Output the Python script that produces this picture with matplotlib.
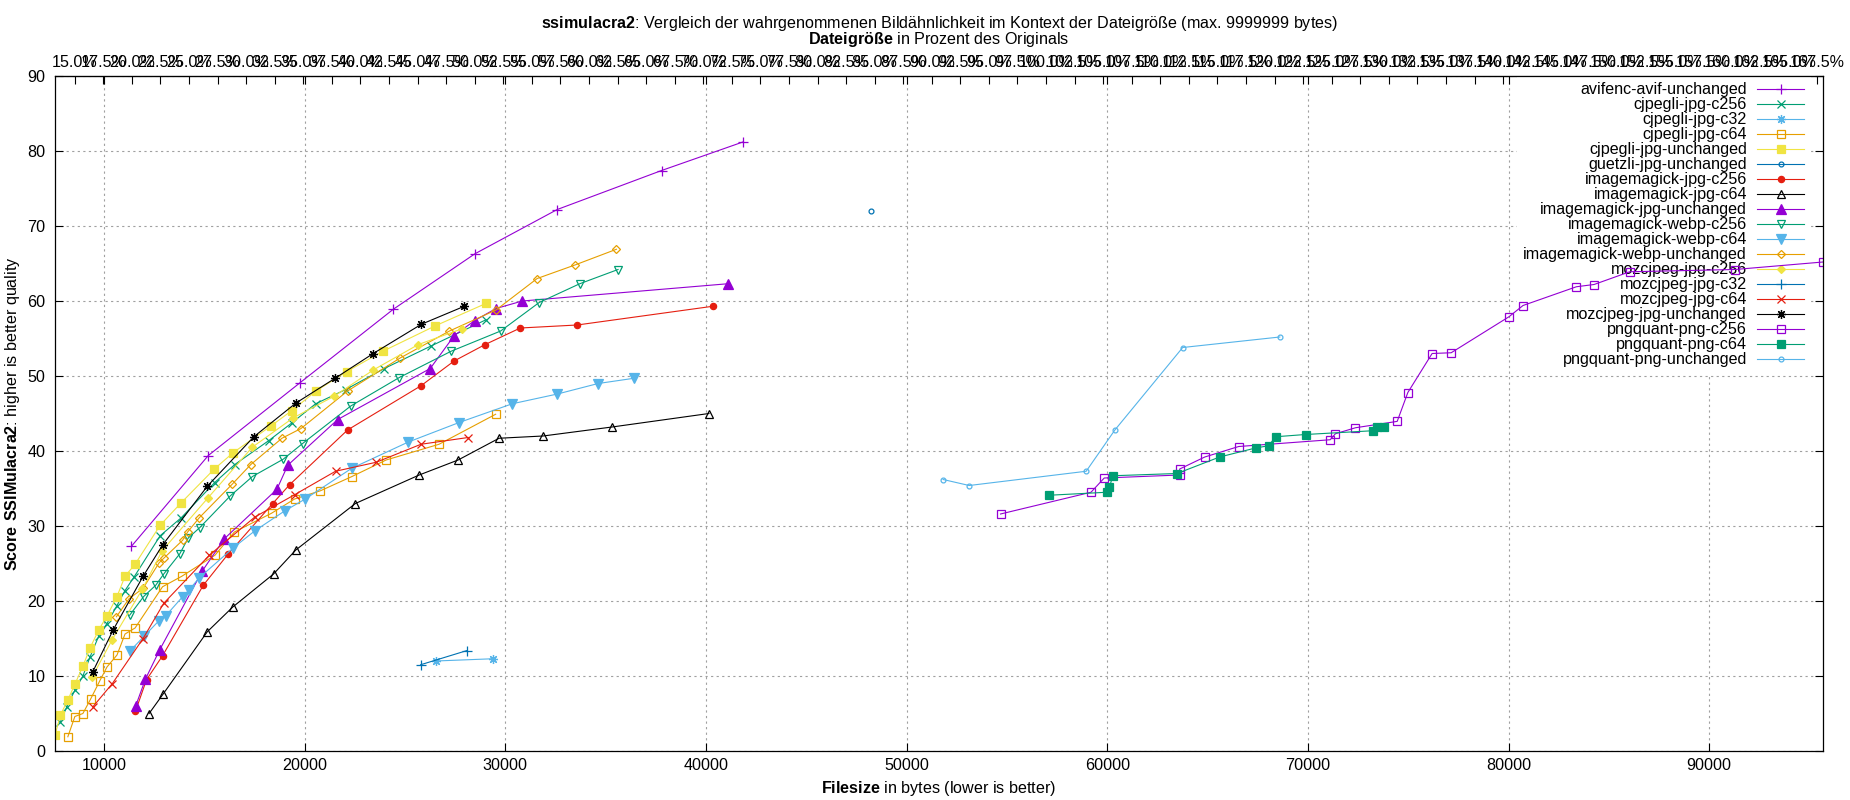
import matplotlib
matplotlib.use("Agg")
import matplotlib.pyplot as plt
from matplotlib.ticker import MultipleLocator, FuncFormatter

plt.rcParams['font.family'] = ['Liberation Sans', 'DejaVu Sans']
plt.rcParams['font.size'] = 11.6
plt.rcParams['mathtext.fontset'] = 'custom'
plt.rcParams['mathtext.rm'] = 'Liberation Sans'
plt.rcParams['mathtext.bf'] = 'Liberation Sans:bold'

# size of the original image in bytes (top axis shows percent of it)
original_size = 56950

# Data: filesize in bytes / ssimulacra2 score
avif_unchanged_x = [11370, 15200, 19770, 24420, 28490, 32590, 37790, 41840]
avif_unchanged_y = [27.3, 39.4, 49.1, 58.9, 66.3, 72.2, 77.4, 81.2]

cjpegli_c256_x = [7830, 8150, 8550, 8950, 9300, 9750, 10150, 10650, 11050, 11500, 12800,
                  13850, 15520, 16520, 18220, 19390, 20550, 22050, 23970, 26300, 29040]
cjpegli_c256_y = [3.9, 5.9, 8.1, 10.0, 12.5, 15.4, 17.0, 19.4, 21.4, 23.2, 28.7,
                  31.1, 35.8, 38.2, 41.4, 43.8, 46.3, 48.2, 51.0, 54.0, 57.5]

cjpegli_c32_x = [26530, 29390]
cjpegli_c32_y = [12.0, 12.3]

cjpegli_c64_x = [8200, 8550, 8950, 9330, 9800, 10150, 10650, 11050, 11550, 12920,
                 13880, 15530, 16500, 18350, 19500, 20790, 22360, 24060, 26700, 29520]
cjpegli_c64_y = [1.9, 4.6, 5.0, 6.9, 9.4, 11.2, 12.8, 15.6, 16.4, 21.9,
                 23.3, 26.1, 29.2, 31.7, 33.6, 34.7, 36.6, 38.8, 40.9, 44.9]

cjpegli_unchanged_x = [7560, 7830, 8200, 8550, 8950, 9300, 9750, 10150, 10650, 11050, 11550,
                       12800, 13850, 15500, 16450, 18300, 19370, 20570, 22100, 23900, 26520, 29060]
cjpegli_unchanged_y = [2.1, 4.8, 6.8, 8.9, 11.3, 13.7, 16.2, 18.0, 20.6, 23.3, 24.9,
                       30.1, 33.1, 37.6, 39.8, 43.3, 45.4, 48.0, 50.6, 53.3, 56.7, 59.7]

guetzli_unchanged_x = [48210]
guetzli_unchanged_y = [72.0]

im_jpg_c256_x = [11570, 12120, 12920, 14950, 16200, 18410, 19250, 22140, 25800, 27450,
                 29000, 30750, 33580, 40350]
im_jpg_c256_y = [5.3, 9.5, 12.7, 22.1, 26.3, 33.0, 35.5, 42.8, 48.7, 52.0,
                 54.2, 56.4, 56.8, 59.3]

im_jpg_c64_x = [12250, 12950, 15150, 16420, 18450, 19560, 22530, 25710, 27650, 29690,
                31880, 35320, 40150]
im_jpg_c64_y = [5.0, 7.6, 15.9, 19.2, 23.6, 26.8, 33.0, 36.8, 38.8, 41.7,
                42.0, 43.2, 45.0]

im_jpg_unchanged_x = [11580, 12070, 12780, 14900, 16000, 18620, 19160, 21650, 26260, 27460,
                      28480, 29540, 30850, 41090]
im_jpg_unchanged_y = [6.0, 9.6, 13.5, 24.0, 28.3, 34.9, 38.1, 44.2, 51.0, 55.4,
                      57.4, 59.0, 60.0, 62.3]

im_webp_c256_x = [11280, 11980, 12580, 12980, 13780, 14200, 14780, 16290, 17400, 18930,
                  19900, 22300, 24720, 27300, 29770, 31690, 33710, 35620]
im_webp_c256_y = [18.1, 20.6, 22.1, 23.6, 26.3, 28.4, 29.8, 34.0, 36.6, 38.9,
                  41.0, 46.0, 49.8, 53.3, 56.0, 59.8, 62.3, 64.2]

im_webp_c64_x = [11320, 12000, 12750, 13070, 13930, 14250, 14750, 16450, 17540, 19000,
                 20030, 22350, 25170, 27700, 30350, 32600, 34630, 36420]
im_webp_c64_y = [13.4, 15.3, 17.4, 18.0, 20.6, 21.5, 23.1, 27.1, 29.4, 32.0,
                 33.6, 37.7, 41.2, 43.8, 46.3, 47.6, 49.0, 49.7]

im_webp_unchanged_x = [10620, 11250, 11950, 12750, 12980, 13920, 14170, 14750, 16400, 17320,
                       18870, 19820, 22140, 24760, 27220, 29540, 31590, 33470, 35540]
im_webp_unchanged_y = [17.9, 20.3, 21.7, 25.1, 25.7, 28.1, 29.2, 31.1, 35.6, 38.2,
                       41.7, 43.0, 48.0, 52.4, 56.0, 58.8, 63.0, 64.8, 66.9]

moz_c256_x = [9420, 10400, 11920, 12900, 15200, 17390, 19420, 21470, 23420, 25670, 27850]
moz_c256_y = [9.9, 14.8, 21.6, 26.7, 33.8, 40.5, 44.4, 47.3, 50.8, 54.2, 56.3]

moz_c32_x = [25780, 28100]
moz_c32_y = [11.5, 13.4]

moz_c64_x = [9450, 10420, 11950, 12980, 15250, 17520, 19520, 21540, 23570, 25800, 28150]
moz_c64_y = [5.9, 9.0, 15.0, 19.7, 26.1, 31.2, 34.2, 37.3, 38.5, 40.9, 41.8]

moz_unchanged_x = [9450, 10450, 11950, 12930, 15150, 17470, 19570, 21520, 23420, 25820, 27960]
moz_unchanged_y = [10.6, 16.1, 23.3, 27.5, 35.3, 41.9, 46.4, 49.7, 53.0, 56.9, 59.3]

pngquant_c256_x = [54680, 59190, 59850, 63610, 63610, 64860, 66550, 71110, 71370, 72370,
                   74450, 74980, 76190, 77140, 80020, 80720, 83380, 84260, 86040, 91280, 95670]
pngquant_c256_y = [31.6, 34.5, 36.4, 36.8, 37.6, 39.2, 40.6, 41.5, 42.3, 43.1,
                   43.95, 47.8, 53.0, 53.1, 57.9, 59.4, 61.9, 62.2, 63.9, 64.2, 65.2]

pngquant_c64_x = [57100, 59980, 60110, 60280, 63480, 65600, 67390, 68040, 68390, 69880,
                  73220, 73420, 73810]
pngquant_c64_y = [34.1, 34.5, 35.2, 36.7, 37.0, 39.2, 40.4, 40.7, 41.9, 42.2,
                  42.7, 43.2, 43.2]

pngquant_unchanged_x = [51820, 53120, 58950, 60380, 63760, 68600]
pngquant_unchanged_y = [36.2, 35.4, 37.3, 42.8, 53.8, 55.2]

series = [
    ("avifenc-avif-unchanged", avif_unchanged_x, avif_unchanged_y),
    ("cjpegli-jpg-c256", cjpegli_c256_x, cjpegli_c256_y),
    ("cjpegli-jpg-c32", cjpegli_c32_x, cjpegli_c32_y),
    ("cjpegli-jpg-c64", cjpegli_c64_x, cjpegli_c64_y),
    ("cjpegli-jpg-unchanged", cjpegli_unchanged_x, cjpegli_unchanged_y),
    ("guetzli-jpg-unchanged", guetzli_unchanged_x, guetzli_unchanged_y),
    ("imagemagick-jpg-c256", im_jpg_c256_x, im_jpg_c256_y),
    ("imagemagick-jpg-c64", im_jpg_c64_x, im_jpg_c64_y),
    ("imagemagick-jpg-unchanged", im_jpg_unchanged_x, im_jpg_unchanged_y),
    ("imagemagick-webp-c256", im_webp_c256_x, im_webp_c256_y),
    ("imagemagick-webp-c64", im_webp_c64_x, im_webp_c64_y),
    ("imagemagick-webp-unchanged", im_webp_unchanged_x, im_webp_unchanged_y),
    ("mozcjpeg-jpg-c256", moz_c256_x, moz_c256_y),
    ("mozcjpeg-jpg-c32", moz_c32_x, moz_c32_y),
    ("mozcjpeg-jpg-c64", moz_c64_x, moz_c64_y),
    ("mozcjpeg-jpg-unchanged", moz_unchanged_x, moz_unchanged_y),
    ("pngquant-png-c256", pngquant_c256_x, pngquant_c256_y),
    ("pngquant-png-c64", pngquant_c64_x, pngquant_c64_y),
    ("pngquant-png-unchanged", pngquant_unchanged_x, pngquant_unchanged_y),
]

# gnuplot default line colors and point types
colors = ['#9400d3', '#009e73', '#56b4e9', '#e69f00', '#f0e442', '#0072b2', '#e51e10', 'black']
point_types = [
    ('+', False, 6.5),
    ('x', False, 6),
    ((8, 2, 0), False, 6.5),
    ('s', False, 5.5),
    ('s', True, 6),
    ('o', False, 3.5),
    ('o', True, 4.5),
    ('^', False, 6),
    ('^', True, 6.5),
    ('v', False, 6),
    ('v', True, 6.5),
    ('D', False, 4),
    ('D', True, 4),
]

fig = plt.figure(figsize=(18.5, 8), dpi=100)
ax = fig.add_axes([55 / 1850, 49 / 800, 1768 / 1850, 675 / 800])

for i, (label, xs, ys) in enumerate(series):
    color = colors[i % len(colors)]
    marker, filled, size = point_types[i % len(point_types)]
    ax.plot(xs, ys, color=color, linewidth=0.8, marker=marker, markersize=size,
            markeredgewidth=0.9, markeredgecolor=color,
            markerfacecolor=color if filled else 'none', label=label)

all_x = [v for _, xs, _ in series for v in xs]
ax.set_xlim(min(all_x), max(all_x))
ax.set_ylim(0, 90)
ax.xaxis.set_major_locator(MultipleLocator(10000))
ax.yaxis.set_major_locator(MultipleLocator(10))

ax.grid(True, color='#a0a0a0', linestyle=(0, (2, 3)), linewidth=0.8)
ax.set_axisbelow(True)
ax.tick_params(direction='in', length=6, width=0.8, top=True, right=True, labeltop=False)
ax.tick_params(axis='y', pad=7)
ax.tick_params(axis='x', pad=5)
for sp in ax.spines.values():
    sp.set_linewidth(0.9)

sec = ax.secondary_xaxis('top', functions=(lambda v: v / original_size * 100,
                                            lambda p: p * original_size / 100))
sec.xaxis.set_major_locator(MultipleLocator(2.5))
sec.xaxis.set_major_formatter(FuncFormatter(lambda v, pos: f"{v:.1f}%"))
sec.tick_params(direction='in', length=6, width=0.8, pad=4)
sec.set_xlabel(r"$\mathbf{Dateigröße}$ in Prozent des Originals", labelpad=8)

ax.set_xlabel(r"$\mathbf{Filesize}$ in bytes (lower is better)", labelpad=4)
ax.set_ylabel(r"$\mathbf{Score\ SSIMulacra2}$: higher is better quality", labelpad=4)

fig.text(0.5077, 1 - 23.5 / 800,
         r"$\mathbf{ssimulacra2}$: Vergleich der wahrgenommenen Bildähnlichkeit im Kontext "
         r"der Dateigröße (max. 9999999 bytes)", ha='center', va='center')

leg = ax.legend(loc='upper right', bbox_to_anchor=(0.993, 1.0), markerfirst=False,
                frameon=True, fancybox=False, edgecolor='none', facecolor='white',
                framealpha=1, handlelength=2.9, handletextpad=0.65, labelspacing=0.0,
                borderaxespad=0, borderpad=0.4, numpoints=1)
leg.set_zorder(1.5)

fig.savefig("out.png", dpi=100)
